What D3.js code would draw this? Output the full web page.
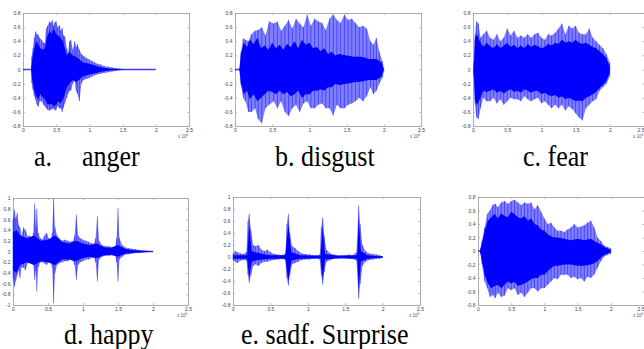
<!DOCTYPE html>
<html>
<head>
<meta charset="utf-8">
<script src="https://cdn.jsdelivr.net/npm/d3@7"></script>
<style>
  body { margin: 0; background: #fff; }
  svg { display: block; }
  .tick text { font-family: "Liberation Sans", Arial, sans-serif; font-size: 5px; fill: #444; }
  .domain { stroke: #9a9a9a; stroke-width: 0.8; }
  .tick line { stroke: #9a9a9a; stroke-width: 0.6; }
  .caption { font-family: "Liberation Serif", "Times New Roman", serif; font-size: 26px; fill: #000; }
</style>
</head>
<body>
<svg id="fig" width="644" height="349"></svg>
<script>
// x in units of 10^4 samples, amplitude

// a. anger
const angerT  = [0.13,0.15,0.17,0.19,0.21,0.23,0.25,0.28,0.31,0.33,0.35,0.37,0.40,0.42,0.44,0.46,0.48,0.50,0.52,0.55,0.57,0.59,0.61,0.63,0.66,0.68,0.70,0.72,0.75,0.78,0.80,0.82,0.85,0.88,0.90,0.93,0.96,1.00,1.04,1.08,1.12,1.17,1.22,1.28,1.34,1.40,1.46,1.52];
const angerUp = [0.18,0.30,0.45,0.54,0.50,0.49,0.45,0.42,0.38,0.37,0.58,0.62,0.68,0.66,0.70,0.62,0.67,0.68,0.60,0.63,0.55,0.59,0.48,0.47,0.30,0.23,0.40,0.42,0.28,0.40,0.32,0.36,0.28,0.22,0.20,0.18,0.16,0.14,0.12,0.10,0.08,0.07,0.05,0.04,0.03,0.02,0.01,0.005];
const angerDn = [-0.19,-0.29,-0.38,-0.43,-0.50,-0.53,-0.45,-0.45,-0.50,-0.52,-0.55,-0.57,-0.58,-0.57,-0.56,-0.55,-0.58,-0.57,-0.52,-0.55,-0.55,-0.60,-0.54,-0.48,-0.40,-0.34,-0.30,-0.30,-0.20,-0.15,-0.30,-0.35,-0.45,-0.20,-0.16,-0.14,-0.13,-0.12,-0.10,-0.08,-0.07,-0.06,-0.05,-0.04,-0.03,-0.02,-0.01,-0.005];
const angerCoreT  = [0.12,0.14,0.17,0.2,0.23,0.26,0.3,0.33,0.36,0.4,0.43,0.46,0.5,0.53,0.56,0.6,0.63,0.66,0.7,0.75,0.8,0.85,0.9,1.0,1.1,1.2,1.3,1.4,1.5];
const angerCoreUp = [0,0.15,0.3,0.4,0.35,0.3,0.28,0.3,0.45,0.55,0.5,0.58,0.5,0.48,0.45,0.4,0.3,0.2,0.25,0.2,0.18,0.14,0.1,0.08,0.05,0.03,0.015,0.008,0];
const angerCoreDn = [0,-0.15,-0.3,-0.38,-0.42,-0.35,-0.4,-0.42,-0.48,-0.5,-0.48,-0.52,-0.5,-0.45,-0.48,-0.42,-0.35,-0.25,-0.2,-0.15,-0.18,-0.14,-0.1,-0.07,-0.05,-0.03,-0.015,-0.008,0];

// b. disgust
const disgustT  = [0.06,0.08,0.11,0.14,0.18,0.22,0.27,0.31,0.36,0.41,0.46,0.52,0.57,0.62,0.67,0.72,0.77,0.82,0.87,0.92,0.97,1.02,1.07,1.12,1.17,1.22,1.27,1.32,1.37,1.42,1.47,1.52,1.57,1.62,1.67,1.72,1.77,1.82,1.86,1.90,1.94,1.98,2.0];
const disgustUp = [0.02,0.25,0.44,0.42,0.40,0.50,0.55,0.56,0.60,0.48,0.68,0.65,0.68,0.55,0.62,0.70,0.58,0.72,0.65,0.60,0.78,0.62,0.72,0.68,0.66,0.56,0.72,0.78,0.70,0.66,0.78,0.70,0.72,0.66,0.60,0.62,0.58,0.40,0.35,0.45,0.25,0.12,0.03];
const disgustDn = [-0.02,-0.22,-0.40,-0.45,-0.60,-0.60,-0.55,-0.70,-0.76,-0.55,-0.50,-0.45,-0.55,-0.45,-0.60,-0.66,-0.55,-0.50,-0.60,-0.48,-0.45,-0.55,-0.55,-0.50,-0.48,-0.55,-0.55,-0.65,-0.50,-0.55,-0.55,-0.50,-0.48,-0.45,-0.40,-0.45,-0.38,-0.25,-0.35,-0.30,-0.20,-0.12,-0.03];
const disgustCoreT  = [0.06,0.08,0.12,0.16,0.2,0.25,0.3,0.35,0.4,0.45,0.5,0.55,0.6,0.65,0.7,0.75,0.8,0.85,0.9,0.95,1.0,1.05,1.1,1.15,1.2,1.25,1.3,1.35,1.4,1.5,1.6,1.7,1.8,1.9,1.97,2.0];
const disgustCoreUp = [0,0.22,0.38,0.32,0.42,0.36,0.45,0.3,0.34,0.28,0.38,0.3,0.35,0.28,0.36,0.32,0.4,0.3,0.42,0.35,0.38,0.3,0.32,0.26,0.3,0.22,0.25,0.2,0.22,0.2,0.18,0.18,0.15,0.15,0.1,0];
const disgustCoreDn = [0,-0.2,-0.35,-0.3,-0.42,-0.35,-0.45,-0.4,-0.35,-0.3,-0.32,-0.35,-0.3,-0.35,-0.32,-0.38,-0.35,-0.3,-0.4,-0.35,-0.35,-0.3,-0.3,-0.28,-0.3,-0.25,-0.25,-0.2,-0.22,-0.2,-0.18,-0.17,-0.15,-0.15,-0.1,0];

// c. fear
const fearT  = [0.01,0.03,0.05,0.08,0.11,0.15,0.2,0.25,0.3,0.35,0.4,0.45,0.5,0.55,0.6,0.65,0.7,0.75,0.8,0.85,0.9,0.95,1.0,1.05,1.1,1.15,1.2,1.25,1.3,1.35,1.4,1.45,1.5,1.55,1.6,1.65,1.7,1.75,1.8,1.85,1.9,1.95,2.0];
const fearUp = [0.1,0.5,0.68,0.65,0.45,0.50,0.55,0.45,0.42,0.50,0.40,0.45,0.58,0.48,0.55,0.45,0.48,0.45,0.50,0.45,0.50,0.52,0.45,0.42,0.50,0.48,0.52,0.58,0.65,0.50,0.62,0.58,0.62,0.52,0.50,0.50,0.58,0.45,0.40,0.35,0.30,0.22,0.10];
const fearDn = [-0.1,-0.5,-0.68,-0.70,-0.55,-0.40,-0.45,-0.45,-0.40,-0.48,-0.42,-0.50,-0.45,-0.40,-0.42,-0.42,-0.45,-0.38,-0.42,-0.45,-0.42,-0.40,-0.48,-0.45,-0.50,-0.55,-0.50,-0.55,-0.50,-0.58,-0.52,-0.56,-0.62,-0.68,-0.72,-0.55,-0.50,-0.45,-0.42,-0.30,-0.25,-0.20,-0.10];
const fearCoreT  = [0.01,0.03,0.06,0.1,0.15,0.2,0.25,0.3,0.35,0.4,0.45,0.5,0.55,0.6,0.65,0.7,0.75,0.8,0.85,0.9,0.95,1.0,1.05,1.1,1.15,1.2,1.25,1.3,1.35,1.4,1.45,1.5,1.55,1.6,1.65,1.7,1.75,1.8,1.85,1.9,1.95,2.0];
const fearCoreUp = [0,0.45,0.5,0.4,0.32,0.38,0.33,0.3,0.36,0.3,0.34,0.38,0.32,0.35,0.3,0.34,0.3,0.36,0.32,0.35,0.33,0.3,0.32,0.36,0.34,0.38,0.36,0.42,0.38,0.4,0.38,0.42,0.38,0.36,0.38,0.35,0.32,0.3,0.26,0.22,0.16,0.05];
const fearCoreDn = [0,-0.45,-0.5,-0.42,-0.3,-0.32,-0.3,-0.28,-0.33,-0.3,-0.34,-0.3,-0.28,-0.32,-0.3,-0.33,-0.28,-0.3,-0.33,-0.3,-0.3,-0.35,-0.33,-0.36,-0.38,-0.36,-0.4,-0.38,-0.42,-0.4,-0.42,-0.45,-0.44,-0.45,-0.4,-0.38,-0.35,-0.32,-0.26,-0.22,-0.16,-0.05];

// d. happy
const happyT  = [0,0.02,0.04,0.06,0.08,0.1,0.12,0.15,0.18,0.21,0.24,0.27,0.29,0.31,0.33,0.34,0.36,0.39,0.42,0.45,0.48,0.51,0.54,0.56,0.58,0.60,0.63,0.66,0.7,0.74,0.78,0.82,0.86,0.88,0.905,0.93,0.96,1.0,1.04,1.08,1.12,1.16,1.18,1.205,1.23,1.27,1.32,1.37,1.42,1.46,1.48,1.5,1.52,1.56,1.6,1.65,1.7,1.75,1.8,1.85,1.9,1.95,2.0];
const happyUp = [0.6,0.78,0.62,0.72,0.5,0.45,0.3,0.45,0.4,0.28,0.3,0.2,0.35,0.9,0.45,0.8,0.35,0.25,0.22,0.3,0.35,0.25,0.2,0.35,1.0,0.45,0.3,0.25,0.2,0.22,0.2,0.18,0.2,0.3,0.69,0.3,0.25,0.22,0.2,0.18,0.15,0.15,0.25,0.66,0.2,0.12,0.1,0.1,0.08,0.1,0.25,0.81,0.25,0.12,0.08,0.06,0.05,0.04,0.03,0.02,0.015,0.01,0.005];
const happyDn = [-0.5,-0.66,-0.55,-0.45,-0.35,-0.5,-0.3,-0.3,-0.35,-0.22,-0.2,-0.18,-0.25,-0.53,-0.35,-0.75,-0.3,-0.2,-0.2,-0.22,-0.25,-0.2,-0.18,-0.3,-0.97,-0.4,-0.25,-0.22,-0.2,-0.18,-0.18,-0.15,-0.18,-0.25,-0.53,-0.25,-0.2,-0.18,-0.15,-0.15,-0.12,-0.12,-0.2,-0.56,-0.15,-0.1,-0.08,-0.08,-0.07,-0.08,-0.2,-0.56,-0.15,-0.1,-0.06,-0.05,-0.04,-0.03,-0.03,-0.02,-0.015,-0.01,-0.005];
const happyCoreT  = [0,0.05,0.1,0.2,0.3,0.4,0.5,0.6,0.7,0.8,0.9,1.0,1.1,1.2,1.3,1.4,1.5,1.6,1.7,1.8,1.9,2.0];
const happyCoreUp = [0.35,0.4,0.3,0.25,0.3,0.2,0.22,0.3,0.18,0.15,0.2,0.15,0.12,0.15,0.08,0.07,0.12,0.05,0.03,0.02,0.01,0];
const happyCoreDn = [-0.35,-0.4,-0.25,-0.2,-0.25,-0.18,-0.2,-0.25,-0.15,-0.15,-0.18,-0.12,-0.1,-0.12,-0.07,-0.06,-0.1,-0.04,-0.03,-0.02,-0.01,0];

// e. sad (middle panel of row 2)
const sadT  = [0,0.03,0.06,0.1,0.14,0.18,0.2,0.217,0.24,0.27,0.3,0.34,0.38,0.42,0.46,0.5,0.55,0.6,0.65,0.7,0.72,0.74,0.76,0.79,0.83,0.87,0.92,0.97,1.02,1.07,1.12,1.16,1.18,1.2,1.22,1.25,1.3,1.35,1.4,1.45,1.5,1.55,1.6,1.65,1.68,1.7,1.73,1.77,1.82,1.87,1.92,1.96,2.0];
const sadUp = [0.05,0.1,0.08,0.06,0.05,0.08,0.6,0.72,0.45,0.2,0.18,0.2,0.12,0.1,0.12,0.08,0.05,0.04,0.03,0.06,0.55,0.72,0.4,0.18,0.15,0.1,0.06,0.05,0.04,0.03,0.03,0.04,0.5,0.66,0.35,0.12,0.06,0.04,0.03,0.03,0.03,0.04,0.03,0.08,0.86,0.55,0.2,0.1,0.06,0.05,0.04,0.03,0.01];
const sadDn = [-0.05,-0.08,-0.1,-0.06,-0.05,-0.06,-0.3,-0.43,-0.3,-0.15,-0.12,-0.15,-0.1,-0.08,-0.08,-0.06,-0.05,-0.04,-0.03,-0.05,-0.35,-0.48,-0.3,-0.12,-0.1,-0.08,-0.05,-0.04,-0.04,-0.03,-0.03,-0.04,-0.3,-0.46,-0.25,-0.08,-0.05,-0.03,-0.03,-0.02,-0.02,-0.03,-0.03,-0.06,-0.7,-0.45,-0.15,-0.08,-0.05,-0.04,-0.03,-0.03,-0.01];
const sadCoreT  = [0,0.19,0.217,0.25,0.3,0.4,0.5,0.7,0.74,0.78,0.9,1.17,1.2,1.23,1.4,1.66,1.68,1.71,1.8,2.0];
const sadCoreUp = [0.03,0.03,0.55,0.1,0.08,0.05,0.03,0.03,0.55,0.08,0.03,0.02,0.5,0.05,0.02,0.03,0.65,0.1,0.03,0.01];
const sadCoreDn = [-0.03,-0.03,-0.35,-0.08,-0.06,-0.04,-0.03,-0.03,-0.4,-0.06,-0.03,-0.02,-0.38,-0.04,-0.02,-0.03,-0.55,-0.08,-0.03,-0.01];

// f. surprise (unlabelled third panel of row 2)
const surpriseT  = [0.03,0.04,0.06,0.1,0.14,0.18,0.22,0.26,0.3,0.35,0.4,0.45,0.5,0.55,0.6,0.65,0.7,0.75,0.8,0.85,0.9,0.95,1.0,1.05,1.1,1.15,1.2,1.25,1.3,1.35,1.4,1.45,1.5,1.55,1.6,1.65,1.7,1.75,1.8,1.85,1.9,1.95,2.0];
const surpriseUp = [0.01,0.05,0.15,0.35,0.55,0.60,0.68,0.70,0.65,0.72,0.74,0.70,0.74,0.76,0.72,0.68,0.72,0.70,0.72,0.62,0.68,0.58,0.48,0.40,0.42,0.35,0.30,0.30,0.28,0.32,0.35,0.40,0.35,0.36,0.38,0.42,0.45,0.35,0.20,0.15,0.08,0.06,0.04];
const surpriseDn = [-0.01,-0.05,-0.2,-0.45,-0.55,-0.68,-0.65,-0.70,-0.62,-0.68,-0.66,-0.55,-0.58,-0.55,-0.65,-0.62,-0.68,-0.62,-0.55,-0.55,-0.60,-0.55,-0.55,-0.50,-0.45,-0.40,-0.42,-0.35,-0.35,-0.35,-0.40,-0.38,-0.42,-0.40,-0.45,-0.38,-0.40,-0.35,-0.25,-0.15,-0.08,-0.06,-0.04];
const surpriseCoreT  = [0.03,0.06,0.1,0.15,0.2,0.25,0.3,0.35,0.4,0.45,0.5,0.55,0.6,0.65,0.7,0.75,0.8,0.85,0.9,0.95,1.0,1.05,1.1,1.15,1.2,1.3,1.4,1.5,1.6,1.7,1.75,1.8,1.85,1.9,2.0];
const surpriseCoreUp = [0,0.12,0.3,0.45,0.5,0.55,0.48,0.56,0.52,0.5,0.58,0.55,0.5,0.48,0.52,0.45,0.48,0.4,0.38,0.32,0.3,0.25,0.22,0.2,0.2,0.18,0.16,0.18,0.16,0.18,0.15,0.12,0.1,0.06,0.02];
const surpriseCoreDn = [0,-0.15,-0.35,-0.48,-0.55,-0.52,-0.5,-0.55,-0.5,-0.45,-0.48,-0.45,-0.52,-0.5,-0.48,-0.45,-0.42,-0.4,-0.4,-0.35,-0.35,-0.3,-0.25,-0.22,-0.22,-0.2,-0.2,-0.22,-0.22,-0.2,-0.18,-0.15,-0.1,-0.06,-0.02];

const xTicks = [0, 0.5, 1, 1.5, 2, 2.5];
const yTicks08 = [-0.8,-0.6,-0.4,-0.2,0,0.2,0.4,0.6,0.8];
const yTicks1  = [-1,-0.8,-0.6,-0.4,-0.2,0,0.2,0.4,0.6,0.8,1];
const yTicksE  = [-0.8,-0.6,-0.4,-0.2,0,0.2,0.4,0.6,0.8,1];

const captions = [
  {x: 34, y: 166, text: "a."},
  {x: 82, y: 166, text: "anger"},
  {x: 275, y: 166, text: "b. disgust"},
  {x: 523, y: 166, text: "c. fear"},
  {x: 64, y: 344, text: "d. happy"},
  {x: 241, y: 344, text: "e. sadf. Surprise"}
];

const panels = [
  {t: angerT, up: angerUp, dn: angerDn, ct: angerCoreT, cu: angerCoreUp, cd: angerCoreDn, box: [23, 13, 189, 126], yDom: [-0.8, 0.8], yTicks: yTicks08},
  {t: disgustT, up: disgustUp, dn: disgustDn, ct: disgustCoreT, cu: disgustCoreUp, cd: disgustCoreDn, box: [235, 13, 421, 126], yDom: [-0.8, 0.8], yTicks: yTicks08},
  {t: fearT, up: fearUp, dn: fearDn, ct: fearCoreT, cu: fearCoreUp, cd: fearCoreDn, box: [473, 13, 644, 126], yDom: [-0.8, 0.8], yTicks: yTicks08},
  {t: happyT, up: happyUp, dn: happyDn, ct: happyCoreT, cu: happyCoreUp, cd: happyCoreDn, box: [13, 198, 188, 305], yDom: [-1, 1], yTicks: yTicks1},
  {t: sadT, up: sadUp, dn: sadDn, ct: sadCoreT, cu: sadCoreUp, cd: sadCoreDn, box: [233, 197, 420, 305], yDom: [-0.8, 1], yTicks: yTicksE},
  {t: surpriseT, up: surpriseUp, dn: surpriseDn, ct: surpriseCoreT, cu: surpriseCoreUp, cd: surpriseCoreDn, box: [478, 197, 644, 305], yDom: [-0.8, 0.8], yTicks: yTicks08}
];

const svg = d3.select("#fig");
const fmt = d => String(+d.toFixed(1));

panels.forEach(p => {
  const [x0, y0, x1, y1] = p.box;
  const x = d3.scaleLinear().domain([0, 2.5]).range([x0, x1]);
  const y = d3.scaleLinear().domain(p.yDom).range([y1, y0]);
  const g = svg.append("g");

  // axes, matlab style: ticks inside, mirrored on top/right
  const xAxis = g.append("g").attr("transform", `translate(0,${y1})`)
    .call(d3.axisBottom(x).tickValues(xTicks).tickFormat(fmt).tickSizeInner(-2).tickSizeOuter(0).tickPadding(2.5));
  g.append("g").attr("transform", `translate(0,${y0})`)
    .call(d3.axisTop(x).tickValues(xTicks).tickFormat("").tickSizeInner(-2).tickSizeOuter(0));
  g.append("g").attr("transform", `translate(${x0},0)`)
    .call(d3.axisLeft(y).tickValues(p.yTicks).tickFormat(fmt).tickSizeInner(-2).tickSizeOuter(0).tickPadding(2.5));
  g.append("g").attr("transform", `translate(${x1},0)`)
    .call(d3.axisRight(y).tickValues(p.yTicks).tickFormat("").tickSizeInner(-2).tickSizeOuter(0));

  // last label sits on the page edge for the right column
  if (x1 >= 640) {
    xAxis.selectAll(".tick text").filter(d => d === 2.5).attr("text-anchor", "end");
  }

  g.append("text")
    .attr("x", x1 - 11).attr("y", y1 + 12)
    .attr("font-family", "Liberation Sans, Arial, sans-serif")
    .attr("font-size", 4.5).attr("fill", "#5a4f8f")
    .text("x 10")
    .append("tspan").attr("dy", -2).attr("font-size", 3).text("4");

  // silence / baseline
  g.append("line")
    .attr("x1", x(0)).attr("x2", x(2))
    .attr("y1", y(0)).attr("y2", y(0))
    .attr("stroke", "#1a1aff").attr("stroke-width", 1.3).attr("stroke-opacity", 0.85);

  const idx = d3.range(p.t.length);
  const peak = d3.area().x(i => x(p.t[i])).y0(i => y(p.dn[i])).y1(i => y(p.up[i]));
  g.append("path").datum(idx)
    .attr("d", peak).attr("fill", "#0000ff").attr("fill-opacity", 0.5);

  g.selectAll(null).data(idx).enter().append("line")
    .attr("x1", i => x(p.t[i])).attr("x2", i => x(p.t[i]))
    .attr("y1", i => y(p.dn[i])).attr("y2", i => y(p.up[i]))
    .attr("stroke", "#0000ff").attr("stroke-width", 0.9).attr("stroke-opacity", 0.5);

  const cidx = d3.range(p.ct.length);
  const core = d3.area().x(i => x(p.ct[i])).y0(i => y(p.cd[i])).y1(i => y(p.cu[i]));
  g.append("path").datum(cidx)
    .attr("d", core).attr("fill", "#0000ff");
});

// captions: Times-like, a little taller than wide as in the scan
svg.selectAll(".caption").data(captions).enter().append("text")
  .attr("class", "caption")
  .attr("transform", d => `translate(${d.x},${d.y}) scale(1,1.1)`)
  .text(d => d.text);
</script>
</body>
</html>
